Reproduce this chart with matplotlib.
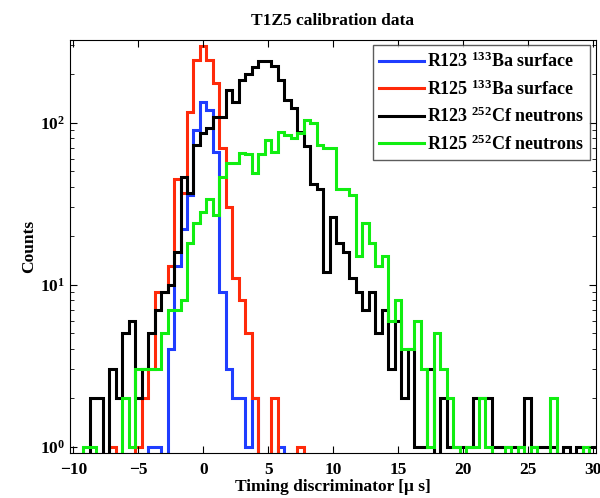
import numpy as np
import matplotlib
matplotlib.use("Agg")
from matplotlib import pyplot as plt

plt.rcParams['font.family'] = ['Liberation Serif', 'DejaVu Serif']
plt.rcParams['font.weight'] = 'bold'
plt.rcParams['mathtext.fontset'] = 'custom'
plt.rcParams['mathtext.rm'] = 'Liberation Serif:bold'
plt.rcParams['mathtext.it'] = 'Liberation Serif:bold'
plt.rcParams['mathtext.bf'] = 'Liberation Serif:bold'

# bin centres -10 ... 30 us, width 0.5
bin_centers = np.arange(-10, 30.01, 0.5)
bin_edges = np.append(bin_centers - 0.25, bin_centers[-1] + 0.25)

r123_ba = [0] * 12 + [1, 1, 0, 4, 13, 22, 36, 90, 135, 120, 66, 9, 3, 2, 2, 1, 2, 0, 0, 0, 1] + [0] * 48
r125_ba = [0] * 6 + [1, 0, 0, 0, 1, 2, 3, 9, 9, 13, 45, 37, 117, 245, 296, 245, 176, 70, 30,
                     11, 8, 5, 2, 0, 0, 2, 0, 0, 0, 1] + [0] * 45
r123_cf = [0, 0, 0, 2, 2, 0, 3, 2, 5, 6, 2, 3, 5, 7, 9, 10, 16, 46, 37, 73,
           86, 93, 109, 109, 160, 135, 184, 200, 222, 240, 242, 225, 184, 139, 123, 88, 72, 42, 39, 12,
           26, 18, 16, 11, 9, 7, 9, 5, 7, 3, 6, 2, 4, 1, 1, 3, 0, 2, 1, 1,
           1, 1, 2, 2, 2, 1, 1, 1, 1, 1, 2, 1, 1, 1, 1, 0, 1, 0, 1, 0, 1]
r125_cf = [0, 0, 1, 1, 0, 0, 0, 0, 2, 1, 3, 3, 3, 3, 5, 7, 7, 8, 18, 24,
           28, 34, 27, 46, 56, 56, 65, 64, 49, 64, 78, 66, 88, 84, 81, 86, 104, 100, 73, 70,
           70, 39, 39, 36, 15, 24, 18, 13, 15, 6, 8, 4, 4, 6, 3, 1, 5, 3, 2, 1,
           0, 1, 1, 2, 1, 0, 0, 1, 0, 1, 0, 1, 0, 0, 2, 0, 0, 0, 0, 1, 0]

labels = ["R123 $^{133}$Ba surface", "R125 $^{133}$Ba surface",
          "R123 $^{252}$Cf neutrons", "R125 $^{252}$Cf neutrons"]
colors = ["#1f3dff", "#ff2a0a", "#000000", "#11ee11"]

fig = plt.figure(figsize=(6, 4.98), dpi=100)
ax = fig.add_axes([0.117, 0.09, 0.876, 0.83])

for vals, lab, col in zip([r123_ba, r125_ba, r123_cf, r125_cf], labels, colors):
    ax.stairs(np.array(vals, dtype=float), bin_edges, baseline=None, color=col, lw=2.2, label=lab)

ax.set_yscale('log')
ax.set_xlim(-10.25, 30.25)
ax.set_ylim(0.91, 325)
ax.set_xticks([-10, -5, 0, 5, 10, 15, 20, 25, 30])
ax.tick_params(which='both', direction='in', top=True, right=True, labelsize=12.5)
ax.tick_params(which='major', length=5)
ax.tick_params(which='minor', length=3)
ax.tick_params(axis='x', which='major', pad=6)
for t in ax.get_xticklabels() + ax.get_yticklabels():
    t.set_fontweight('bold')

ax.set_title("T1Z5 calibration data", fontsize=12.5, fontweight='bold', pad=11)
ax.set_xlabel("Timing discriminator [μ s]", fontsize=12.5, fontweight='bold', labelpad=1)
ax.set_ylabel("Counts", fontsize=12.5, fontweight='bold', labelpad=2)

leg = ax.legend(loc='upper right', fontsize=13, frameon=True, fancybox=False,
                edgecolor='#333333', handlelength=2.5, handletextpad=0.15,
                borderaxespad=0.3, labelspacing=0.45, borderpad=0.35)
leg.get_frame().set_linewidth(1.0)

fig.savefig("out.png", dpi=100)
